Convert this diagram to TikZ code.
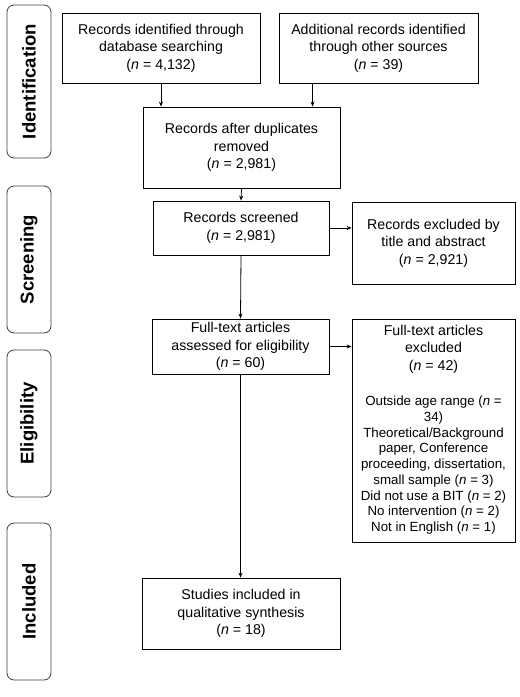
\documentclass[tikz,border=0pt]{standalone}
\usepackage{fontspec}
\setmainfont{Liberation Sans}
\usetikzlibrary{arrows.meta,calc}

\begin{document}
\begin{tikzpicture}[x=1pt,y=-1pt,
    box/.style={draw,line width=0.8pt,inner sep=0pt,align=center,
      font=\fontsize{14.2}{17.6}\selectfont},
    phase/.style={draw=black!75,line width=0.8pt,rounded corners=7pt,inner sep=0pt,
      minimum width=44pt,font=\fontsize{18.5}{20}\selectfont\bfseries},
    arr/.style={line width=0.8pt,-{Stealth[length=5pt,width=4pt]}}]
      \useasboundingbox (0,0) rectangle (520,697);
      % stages
      \node[phase,minimum height=153pt] (ident) at (29,81.5) {\rotatebox{90}{Identification}};
      \node[phase,minimum height=147pt] (screen) at (29,259.5) {\rotatebox{90}{Screening}};
      \node[phase,minimum height=147pt] (elig) at (29,423.5) {\rotatebox{90}{Eligibility}};
      \node[phase,minimum height=157pt] (incl) at (29,601.5) {\rotatebox{90}{Included}};
      % boxes
      \node[box,minimum width=198pt,minimum height=70pt] (dbsearch) at (161,48)
        {Records identified through\\database searching\\(\textit{n} = 4,132)};
      \node[box,minimum width=199pt,minimum height=70pt] (other) at (378.5,48)
        {Additional records identified\\through other sources\\(\textit{n} = 39)};
      \node[box,minimum width=197pt,minimum height=81pt] (dedup) at (241.5,147.5)
        {Records after duplicates\\removed\\(\textit{n} = 2,981)};
      \node[box,minimum width=176pt,minimum height=54pt] (screened) at (241,228)
        {Records screened\\(\textit{n} = 2,981)};
      \node[box,minimum width=163pt,minimum height=82pt] (exclA) at (433.5,243)
        {Records excluded by\\title and abstract\\(\textit{n} = 2,921)};
      \node[box,minimum width=177pt,minimum height=55pt] (fulltext) at (240.5,346.5)
        {Full-text articles\\assessed for eligibility\\(\textit{n} = 60)};
      \node[box,minimum width=163pt,minimum height=223pt] (exclB) at (433.5,430.5)
        {Full-text articles\\excluded\\(\textit{n} = 42)\\[18pt]
         \fontsize{13.3}{15.7}\selectfont
         \begin{tabular}[t]{@{}c@{}}
         Outside age range (\textit{n} =\\34)\\
         Theoretical/Background\\paper, Conference\\proceeding, dissertation,\\
         small sample (\textit{n} = 3)\\Did not use a BIT (\textit{n} = 2)\\
         No intervention (\textit{n} = 2)\\Not in English (\textit{n} = 1)
         \end{tabular}};
      \node[box,minimum width=198pt,minimum height=71pt] (synth) at (241,613.5)
        {Studies included in\\qualitative synthesis\\(\textit{n} = 18)};
      % arrows
      \draw[arr] (dbsearch.south) -- (dbsearch.south |- dedup.north);
      \draw[arr] ($(other.south west)!0.17!(other.south east)$) coordinate (o) -- (o |- dedup.north);
      \draw[arr] (dedup.south) -- (screened.north);
      \draw[arr] (screened.east) -- (screened.east -| exclA.west);
      \draw[arr] (screened.south) -- (fulltext.north);
      \draw[arr] (fulltext.east) -- (fulltext.east -| exclB.west);
      \draw[arr] (fulltext.south) -- (fulltext.south |- synth.north);
    \end{tikzpicture}
\end{document}
